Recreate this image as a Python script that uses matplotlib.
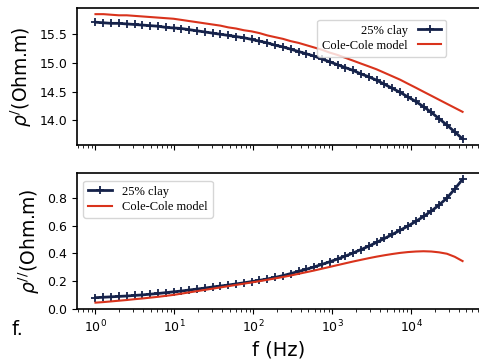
import numpy as np
import matplotlib.pyplot as plt

# frequencies (Hz), ~10 per decade
freq = [1.0, 1.26, 1.58, 1.98, 2.49, 3.13, 3.93, 4.93, 6.20, 7.78,
        9.77, 12.3, 15.4, 19.4, 24.3, 30.5, 38.4, 48.2, 60.5, 76.0,
        95.5, 120, 151, 189, 238, 299, 375, 471, 592, 743,
        934, 1170, 1470, 1850, 2320, 2920, 3660, 4600, 5780, 7260,
        9120, 11500, 14400, 18100, 22700, 28500, 35800, 45000]

# real part, measured (25% clay)
rho_re = [15.71, 15.70, 15.69, 15.69, 15.68, 15.67, 15.66, 15.65, 15.64, 15.62,
          15.61, 15.60, 15.58, 15.56, 15.54, 15.52, 15.50, 15.48, 15.46, 15.44,
          15.41, 15.38, 15.35, 15.31, 15.28, 15.24, 15.20, 15.16, 15.12, 15.07,
          15.02, 14.97, 14.92, 14.87, 14.81, 14.76, 14.70, 14.63, 14.56, 14.49,
          14.41, 14.33, 14.24, 14.14, 14.03, 13.92, 13.80, 13.68]
# real part, Cole-Cole model
cc_re = [15.85, 15.85, 15.84, 15.83, 15.83, 15.82, 15.81, 15.80, 15.79, 15.78,
         15.77, 15.75, 15.73, 15.71, 15.69, 15.67, 15.65, 15.62, 15.60, 15.57,
         15.55, 15.52, 15.48, 15.45, 15.42, 15.38, 15.35, 15.31, 15.27, 15.23,
         15.18, 15.14, 15.09, 15.04, 14.99, 14.94, 14.89, 14.83, 14.77, 14.71,
         14.64, 14.57, 14.50, 14.43, 14.36, 14.29, 14.22, 14.15]

# imaginary part, measured
rho_im = [0.081, 0.084, 0.087, 0.090, 0.093, 0.097, 0.101, 0.106, 0.111, 0.117,
          0.123, 0.129, 0.136, 0.143, 0.150, 0.158, 0.165, 0.172, 0.180, 0.188,
          0.197, 0.206, 0.216, 0.227, 0.240, 0.255, 0.270, 0.286, 0.303, 0.321,
          0.340, 0.360, 0.381, 0.404, 0.428, 0.453, 0.480, 0.508, 0.537, 0.567,
          0.598, 0.631, 0.667, 0.706, 0.750, 0.800, 0.865, 0.935]
# imaginary part, Cole-Cole model
cc_im = [0.045, 0.049, 0.054, 0.059, 0.064, 0.070, 0.075, 0.081, 0.087, 0.094,
         0.101, 0.110, 0.119, 0.128, 0.137, 0.146, 0.155, 0.164, 0.173, 0.182,
         0.191, 0.200, 0.210, 0.220, 0.230, 0.241, 0.253, 0.265, 0.277, 0.290,
         0.303, 0.316, 0.329, 0.342, 0.354, 0.366, 0.377, 0.387, 0.396, 0.404,
         0.410, 0.414, 0.416, 0.414, 0.408, 0.398, 0.376, 0.345]

navy = '#15224a'
red = '#d9331c'

fig = plt.figure(figsize=(4.79, 3.60), dpi=100)
ax1 = fig.add_axes([0.161, 0.597, 0.843, 0.381])
ax2 = fig.add_axes([0.161, 0.142, 0.843, 0.377])

leg_font = {'family': 'Liberation Serif', 'size': 9}

ax1.plot(freq, rho_re, color=navy, lw=2, marker='+', ms=6, mew=1.3, label='25% clay')
ax1.plot(freq, cc_re, color=red, lw=1.5, label='Cole-Cole model')
ax1.set_xscale('log')
ax1.set_xticklabels([])
ax1.set_yticks([14.0, 14.5, 15.0, 15.5])
ax1.set_ylabel(r'$\rho^{/}$(Ohm.m)', fontsize=13.5)
ax1.legend(loc='upper right', bbox_to_anchor=(0.93, 0.96), prop=leg_font,
           markerfirst=False, handlelength=1.9, borderpad=0.4, labelspacing=0.25)

ax2.plot(freq, rho_im, color=navy, lw=2, marker='+', ms=6, mew=1.3, label='25% clay')
ax2.plot(freq, cc_im, color=red, lw=1.5, label='Cole-Cole model')
ax2.set_xscale('log')
ax2.set_yticks([0.0, 0.2, 0.4, 0.6, 0.8])
ax2.set_ylabel(r'$\rho^{//}$(Ohm.m)', fontsize=13.5)
ax2.set_xlabel('f (Hz)', fontsize=14)
ax2.legend(loc='upper left', bbox_to_anchor=(0.0, 0.99), prop=leg_font,
           handlelength=1.9, borderpad=0.4, labelspacing=0.25)

for ax in (ax1, ax2):
    ax.tick_params(labelsize=9)
    for s in ax.spines.values():
        s.set_linewidth(1.2)
    ax.set_xlim(ax1.get_xlim())

fig.text(0.025, 0.07, 'f.', fontsize=14)

fig.savefig('out.png', dpi=100)
